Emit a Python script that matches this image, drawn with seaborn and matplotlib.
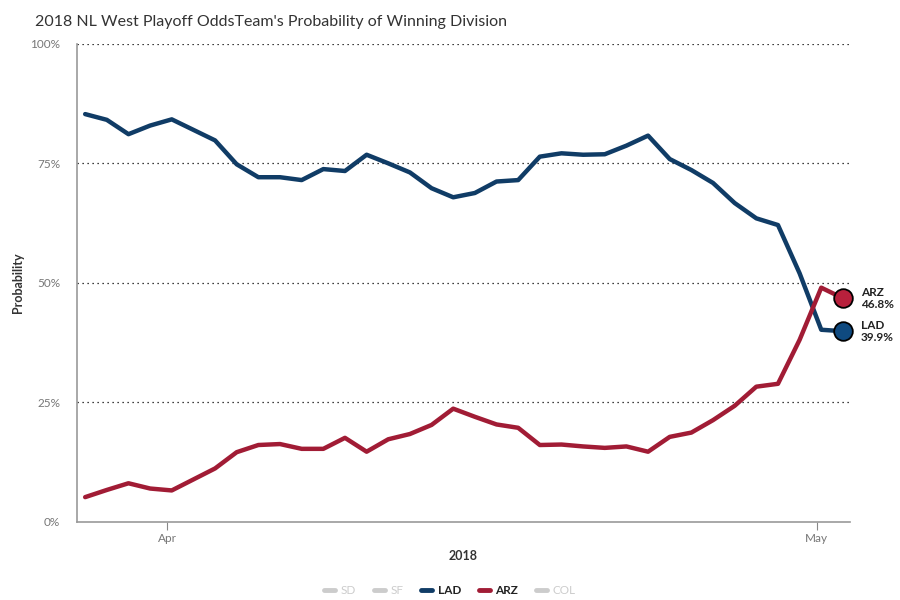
import matplotlib
matplotlib.use("Agg")
import matplotlib.pyplot as plt
import matplotlib.dates as mdates
from matplotlib.lines import Line2D
from matplotlib.ticker import FuncFormatter
import seaborn as sns
import pandas as pd
import numpy as np

# daily odds, 2018-03-28 .. 2018-05-02 (stamped in UTC, hence the 5h shift)
dates = pd.date_range("2018-03-28 05:00", "2018-05-02 05:00", freq="D")
lad = [85.3, 84.1, 81.1, 82.9, 84.2, 82.0, 79.8, 74.8, 72.1, 72.1,
       71.5, 73.8, 73.4, 76.8, 75.0, 73.1, 69.8, 67.9, 68.8, 71.2,
       71.5, 76.4, 77.1, 76.8, 76.9, 78.7, 80.8, 75.9, 73.6, 70.9,
       66.7, 63.5, 62.1, 52.0, 40.2, 39.9]
arz = [5.2, 6.7, 8.1, 7.0, 6.6, 8.9, 11.2, 14.6, 16.1, 16.3,
       15.3, 15.3, 17.6, 14.7, 17.3, 18.4, 20.3, 23.7, 22.0, 20.4,
       19.7, 16.1, 16.2, 15.8, 15.5, 15.8, 14.7, 17.8, 18.7, 21.3,
       24.3, 28.3, 28.9, 38.1, 49.0, 46.8]
teams = ["SD", "SF", "LAD", "ARZ", "COL"]
shown = ["LAD", "ARZ"]

colors = {"LAD": "#103c66", "ARZ": "#a11c35"}
dot_colors = {"LAD": "#0f4a80", "ARZ": "#b8203c"}

df = pd.concat([
    pd.DataFrame({"date": dates, "prob": lad, "team": "LAD"}),
    pd.DataFrame({"date": dates, "prob": arz, "team": "ARZ"}),
])

sns.set_style("white")
plt.rcParams["font.family"] = ["Lato", "DejaVu Sans"]

fig = plt.figure(figsize=(9, 6), dpi=100)
ax = fig.add_axes([0.0856, 0.13, 0.859, 0.797])

sns.lineplot(data=df, x="date", y="prob", hue="team", palette=colors,
             linewidth=3.2, ax=ax, legend=False)

# end markers + labels
for t, vals in [("ARZ", arz), ("LAD", lad)]:
    ax.scatter([dates[-1]], [vals[-1]], s=180, color=dot_colors[t],
               edgecolor="black", linewidth=1.3, zorder=5, clip_on=False)
    ax.annotate(f"{t}\n{vals[-1]:.1f}%", (dates[-1], vals[-1]),
                xytext=(13, 0), textcoords="offset points", va="center",
                ha="left", fontsize=8.5, fontweight="bold", color="#222222",
                linespacing=1.1, annotation_clip=False)

ax.set_ylim(0, 100)
ax.set_xlim(dates[0] - pd.Timedelta(hours=9), dates[-1] + pd.Timedelta(hours=8))
ax.set_yticks([0, 25, 50, 75, 100])
ax.yaxis.set_major_formatter(FuncFormatter(lambda v, p: f"{v:.0f}%"))
ax.xaxis.set_major_locator(mdates.MonthLocator())
ax.xaxis.set_major_formatter(mdates.DateFormatter("%b"))

for y in [25, 50, 75, 100]:
    ax.axhline(y, color="black", linestyle=(0, (1, 3)), linewidth=0.9, zorder=0)

for s in ["top", "right"]:
    ax.spines[s].set_visible(False)
for s in ["left", "bottom"]:
    ax.spines[s].set_color("#999999")
    ax.spines[s].set_linewidth(1.2)

ax.tick_params(axis="y", length=0, pad=12, labelsize=8.5, labelcolor="#777777")
ax.tick_params(axis="x", length=6, width=0.8, color="#888888", pad=2,
               labelsize=8.5, labelcolor="#777777", bottom=True)

ax.set_xlabel("2018", fontsize=9, fontweight="bold", color="#333333", labelpad=4)
ax.set_ylabel("Probability", fontsize=9, fontweight="bold", color="#333333")
ax.yaxis.set_label_coords(-0.068, 0.5)

fig.text(0.039, 0.963, "2018 NL West Playoff OddsTeam's Probability of Winning Division",
         fontsize=11.5, color="#333333", ha="left", va="center")

# legend
handles = []
for t in teams:
    c = colors[t] if t in shown else "#cccccc"
    handles.append(Line2D([0], [0], color=c, linewidth=3.5))
leg = fig.legend(handles, teams, loc="center", bbox_to_anchor=(0.5, 0.016),
                 ncol=5, frameon=False, fontsize=8.5, handlelength=0.9,
                 columnspacing=1.5, handletextpad=0.5)
for txt, t in zip(leg.get_texts(), teams):
    txt.set_color("#222222" if t in shown else "#cccccc")
    if t in shown:
        txt.set_fontweight("bold")

fig.savefig("out.png", dpi=100)
